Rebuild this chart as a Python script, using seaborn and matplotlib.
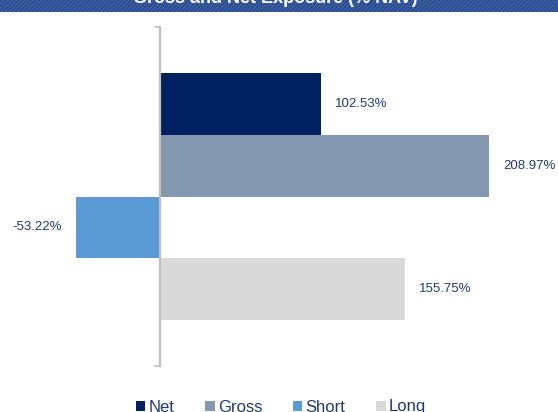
import numpy as np
import pandas as pd
import matplotlib
matplotlib.use("Agg")
import matplotlib.pyplot as plt
from matplotlib.patches import Rectangle
import seaborn as sns

# dati
serie = ["Net", "Gross", "Short", "Long"]
valori = [102.53, 208.97, -53.22, 155.75]
colori = ["#002060", "#8497B0", "#5B9BD5", "#D9D9D9"]
titolo = "Gross and Net Exposure (% NAV)"
navy = "#1F3A70"

df = pd.DataFrame({"cat": ["Exposure"] * len(serie), "serie": serie, "valore": valori})

sns.set_style("white")
plt.rcParams["font.family"] = ["Liberation Sans", "DejaVu Sans"]

fig = plt.figure(figsize=(5.58, 4.12), dpi=100)
ax = fig.add_axes([0, 1 - 366 / 412, 1, 339 / 412])

sns.barplot(data=df, x="valore", y="cat", hue="serie", hue_order=serie,
            palette=colori, orient="h", width=0.73, dodge=True, gap=0,
            saturation=1, ax=ax, linewidth=0)

ax.set_xlim(-101.6, 252.8)
ax.set_ylim(0.5, -0.5)

# etichette dei valori
for cont, v in zip(ax.containers, valori):
    ax.bar_label(cont, labels=[f"{v:.2f}%"], padding=10, color=navy, fontsize=9.5)

# asse verticale grigio sullo zero
for s in ["top", "right", "bottom"]:
    ax.spines[s].set_visible(False)
ax.spines["left"].set_position(("data", 0))
ax.spines["left"].set_color("#BFBFBF")
ax.spines["left"].set_linewidth(1.6)
ax.set_yticks([-0.5, 0.5])
ax.set_yticklabels([])
ax.tick_params(axis="y", direction="out", length=4, width=1.2, color="#BFBFBF", left=True)
ax.set_xticks([])
ax.set_xlabel("")
ax.set_ylabel("")

# legenda in basso
handles, labels = ax.get_legend_handles_labels()
if ax.get_legend() is not None:
    ax.get_legend().remove()
fig.legend(handles, labels, loc="center", bbox_to_anchor=(0.504, 5 / 412), ncol=4,
           frameon=False, handlelength=0.55, handleheight=0.55, handletextpad=0.2,
           columnspacing=1.85, fontsize=12, labelcolor=navy, borderpad=0)

# fascia del titolo in alto (tagliata)
fig.patches.append(Rectangle((0, 1 - 12 / 412), 1, 12 / 412, transform=fig.transFigure,
                             facecolor="#294A8C", edgecolor="#3F62A6", hatch="////////",
                             linewidth=0, zorder=0))
fig.text(0.494, 1 - 3 / 412, titolo, ha="center", va="baseline", color="white",
         fontsize=13, fontweight="bold")

fig.savefig("out.png", dpi=100)
